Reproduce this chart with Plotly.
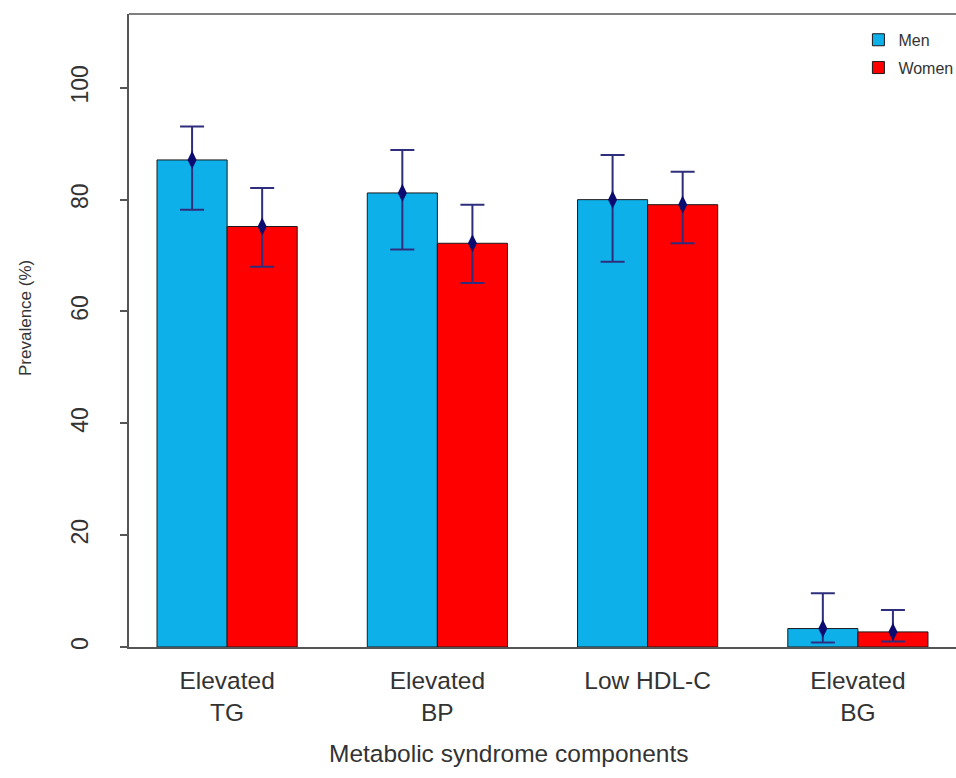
import plotly.graph_objects as go

categories = ["Elevated<br>TG", "Elevated<br>BP", "Low HDL-C", "Elevated<br>BG"]
men_values = [87.1, 81.2, 80.0, 3.3]
men_upper = [93.1, 88.9, 88.0, 9.6]
men_lower = [78.2, 71.1, 68.9, 0.8]
women_values = [75.2, 72.2, 79.1, 2.7]
women_upper = [82.1, 79.1, 85.0, 6.6]
women_lower = [68.0, 65.1, 72.2, 1.0]
y_ticks = [0, 20, 40, 60, 80, 100]
x_title = "Metabolic syndrome components"
y_title = "Prevalence (%)"

FONT = "Liberation Sans, Arial, sans-serif"
TXT = "#333333"
ERR = "#2e2e7c"
DIAM = "#0b0b70"

centers = [3 * i + 2 for i in range(len(categories))]
men_x = [c - 0.5 for c in centers]
women_x = [c + 0.5 for c in centers]

fig = go.Figure()
fig.add_trace(go.Bar(x=men_x, y=men_values, width=1, name="Men",
                     marker=dict(color="#0eb0ea", line=dict(color="#1a1a1a", width=1)),
                     legendgroup="men"))
fig.add_trace(go.Bar(x=women_x, y=women_values, width=1, name="Women",
                     marker=dict(color="#ff0000", line=dict(color="#1a1a1a", width=1)),
                     legendgroup="women"))

for xs, vals, up, lo in [(men_x, men_values, men_upper, men_lower),
                         (women_x, women_values, women_upper, women_lower)]:
    fig.add_trace(go.Scatter(
        x=xs, y=vals, mode="markers", showlegend=False,
        marker=dict(symbol="diamond-tall", size=13, color=DIAM),
        error_y=dict(type="data", symmetric=False,
                     array=[u - v for u, v in zip(up, vals)],
                     arrayminus=[v - l for v, l in zip(vals, lo)],
                     color=ERR, thickness=2, width=12),
    ))

fig.update_layout(
    width=956, height=778,
    margin=dict(l=129, r=0, t=14, b=131, autoexpand=False),
    plot_bgcolor="white", paper_bgcolor="white",
    font=dict(family=FONT, color=TXT),
    showlegend=True,
    legend=dict(x=0.882, y=0.986, xanchor="left", yanchor="top",
                font=dict(size=16, color=TXT), tracegroupgap=4,
                bgcolor="rgba(0,0,0,0)"),
    xaxis=dict(range=[0.60, 12.40], tickvals=centers, ticktext=categories,
               showgrid=False, zeroline=False, showline=True, linecolor="#555555",
               linewidth=1.5, ticks="", tickfont=dict(size=24.5, color=TXT),
               ticklabelstandoff=11),
    yaxis=dict(range=[0, 113.2], tickvals=y_ticks, showgrid=False, zeroline=False,
               showline=True, linecolor="#555555", linewidth=1.5,
               ticks="outside", ticklen=7, tickcolor="#555555", tickwidth=1.5,
               tickangle=-90, tickfont=dict(size=23, color=TXT),
               ticklabelstandoff=23),
    shapes=[dict(type="line", xref="paper", yref="paper", x0=0, x1=1, y0=1, y1=1,
                 line=dict(color="#555555", width=1.5))],
    annotations=[
        dict(text=x_title, xref="paper", yref="paper", x=0.4595, y=0,
             xanchor="center", yanchor="middle", yshift=-106, showarrow=False,
             font=dict(size=24.5, color=TXT)),
        dict(text=y_title, xref="paper", yref="paper", x=-0.1258, y=0.5197,
             xanchor="center", yanchor="middle", textangle=-90, showarrow=False,
             font=dict(size=17, color=TXT)),
    ],
)

fig.write_html("out.html",
               config={"displayModeBar": False},
               post_script="document.body.style.margin='0';"
                           "document.body.style.overflow='hidden';")
